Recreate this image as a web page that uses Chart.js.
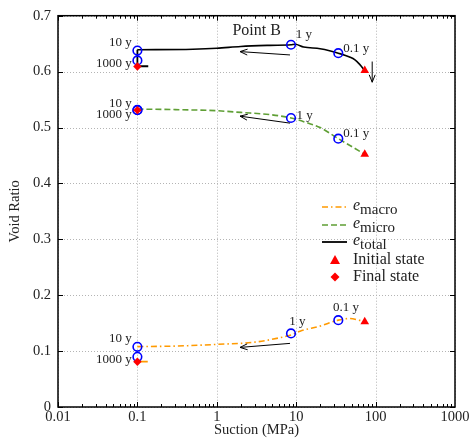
<!DOCTYPE html>
<html>
<head>
<meta charset="utf-8">
<script src="https://cdn.jsdelivr.net/npm/chart.js@4.4.1/dist/chart.umd.min.js"></script>
<style>
  html, body { margin: 0; padding: 0; background: #fff; }
</style>
</head>
<body>
<canvas id="chart" width="472" height="445"></canvas>
<script>
// Suction (MPa) and void ratio
const suctionTotal = [0.1, 0.5, 1, 2, 4.7, 8.6, 9.7, 12.4, 20, 27, 33.9, 47, 55, 63, 73];
const voidTotal    = [0.639, 0.640, 0.6417, 0.645, 0.647, 0.648, 0.649, 0.644, 0.641, 0.637, 0.633, 0.626, 0.621, 0.613, 0.602];

const suctionMicro = [0.1, 0.3, 1, 2, 4.7, 8.6, 14, 20, 33.9, 50, 73];
const voidMicro    = [0.533, 0.532, 0.530, 0.527, 0.523, 0.517, 0.508, 0.500, 0.480, 0.466, 0.452];

const suctionMacro = [0.1, 0.3, 1, 3, 6.25, 8.6, 11.2, 19.9, 33.9, 47.5, 63, 73];
const voidMacro    = [0.108, 0.109, 0.112, 0.116, 0.124, 0.129, 0.1357, 0.1447, 0.1554, 0.1584, 0.155, 0.1523];

// short segments at the final state
const stubTotalX = [0.1, 0.1, 0.137];
const stubTotalY = [0.639, 0.6096, 0.6096];
const stubMacroX = [0.1, 0.135];
const stubMacroY = [0.081, 0.081];

// time markers (blue circles): 10 y, 1000 y, 1 y, 0.1 y
const markSuction = [0.1, 0.1, 8.6, 33.9, 0.1, 0.1, 8.6, 33.9, 0.1, 0.1, 8.6, 33.9];
const markVoid    = [0.6376, 0.620, 0.648, 0.633, 0.531, 0.5315, 0.517, 0.480, 0.1077, 0.0898, 0.1316, 0.1554];

const initSuction = [73, 73, 73];
const initVoid    = [0.602, 0.452, 0.1523];
const finalSuction = [0.1, 0.1, 0.1];
const finalVoid    = [0.609, 0.531, 0.081];

// arrows (head at the "to" end)
const arrowFromX = [8.36, 8.36, 8.36, 90.6];
const arrowFromY = [0.6298, 0.5078, 0.1138, 0.618];
const arrowToX   = [1.96, 1.96, 1.96, 90.6];
const arrowToY   = [0.6358, 0.5203, 0.1066, 0.581];

// text annotations
const noteText  = ['Point B', '10 y', '1000 y', '1 y', '0.1 y', '10 y', '1000 y', '1 y', '0.1 y', '10 y', '1000 y', '1 y', '0.1 y'];
const noteX     = [3.18, 0.085, 0.085, 9.9, 39, 0.085, 0.085, 10.1, 39, 0.085, 0.085, 8.2, 29];
const noteY     = [0.673, 0.6525, 0.614, 0.667, 0.6406, 0.5424, 0.5228, 0.5214, 0.4888, 0.1227, 0.084, 0.152, 0.178];
const noteAlign = ['center', 'right', 'right', 'left', 'left', 'right', 'right', 'left', 'left', 'right', 'right', 'left', 'left'];

const xTicks = [0.01, 0.1, 1, 10, 100, 1000];
const xTickLabels = ['0.01', '0.1', '1', '10', '100', '1000'];
const yTicks = [0, 0.1, 0.2, 0.3, 0.4, 0.5, 0.6, 0.7];
const yTickLabels = ['0', '0.1', '0.2', '0.3', '0.4', '0.5', '0.6', '0.7'];

const FONT = '"Liberation Serif", "DejaVu Serif", serif';
const ORANGE = '#ff9a00';
const GREEN = '#5f9f35';
const BLUE = '#0000ff';
const RED = '#ff0000';

function pts(xs, ys) {
    return xs.map((x, i) => ({ x: x, y: ys[i] }));
}

function drawArrow(ctx, x0, y0, x1, y1) {
    const ang = Math.atan2(y1 - y0, x1 - x0);
    const len = 8, spread = 0.38;
    ctx.beginPath();
    ctx.moveTo(x0, y0);
    ctx.lineTo(x1, y1);
    ctx.stroke();
    ctx.beginPath();
    ctx.moveTo(x1 - len * Math.cos(ang - spread), y1 - len * Math.sin(ang - spread));
    ctx.lineTo(x1, y1);
    ctx.lineTo(x1 - len * Math.cos(ang + spread), y1 - len * Math.sin(ang + spread));
    ctx.stroke();
}

const decorPlugin = {
    id: 'decor',
    beforeDatasetsDraw(chart) {
        // dotted grid at the major ticks
        const ctx = chart.ctx;
        const area = chart.chartArea;
        const xs = chart.scales.x, ys = chart.scales.y;
        ctx.save();
        ctx.strokeStyle = '#b4b4b4';
        ctx.lineWidth = 1;
        ctx.setLineDash([1, 2]);
        ctx.beginPath();
        xTicks.forEach(v => {
            const px = Math.round(xs.getPixelForValue(v)) + 0.5;
            ctx.moveTo(px, area.top); ctx.lineTo(px, area.bottom);
        });
        yTicks.forEach(v => {
            const py = Math.round(ys.getPixelForValue(v)) + 0.5;
            ctx.moveTo(area.left, py); ctx.lineTo(area.right, py);
        });
        ctx.stroke();
        ctx.restore();
    },
    afterDatasetsDraw(chart) {
        const ctx = chart.ctx;
        const area = chart.chartArea;
        const xs = chart.scales.x, ys = chart.scales.y;
        ctx.save();

        // inward tick marks
        ctx.strokeStyle = '#000';
        ctx.lineWidth = 1;
        ctx.beginPath();
        for (let d = -2; d <= 2; d++) {
            for (let m = 1; m <= 9; m++) {
                const v = m * Math.pow(10, d);
                const px = Math.round(xs.getPixelForValue(v)) + 0.5;
                const l = m === 1 ? 5 : 3;
                ctx.moveTo(px, area.bottom); ctx.lineTo(px, area.bottom - l);
                ctx.moveTo(px, area.top); ctx.lineTo(px, area.top + l);
            }
        }
        yTicks.forEach(v => {
            const py = Math.round(ys.getPixelForValue(v)) + 0.5;
            ctx.moveTo(area.left, py); ctx.lineTo(area.left + 5, py);
            ctx.moveTo(area.right, py); ctx.lineTo(area.right - 5, py);
        });
        ctx.stroke();

        // frame
        ctx.lineWidth = 1.5;
        ctx.strokeRect(area.left, area.top, area.right - area.left, area.bottom - area.top);

        // arrows
        ctx.lineWidth = 1;
        for (let i = 0; i < arrowFromX.length; i++) {
            drawArrow(ctx,
                xs.getPixelForValue(arrowFromX[i]), ys.getPixelForValue(arrowFromY[i]),
                xs.getPixelForValue(arrowToX[i]), ys.getPixelForValue(arrowToY[i]));
        }

        // annotations
        ctx.fillStyle = '#222';
        ctx.textBaseline = 'middle';
        for (let i = 0; i < noteText.length; i++) {
            ctx.font = (i === 0 ? '16px ' : '13px ') + FONT;
            ctx.textAlign = noteAlign[i];
            ctx.fillText(noteText[i], xs.getPixelForValue(noteX[i]), ys.getPixelForValue(noteY[i]));
        }

        // legend
        const lx0 = 322, lx1 = 347, tx = 353;
        const rows = [207, 225, 242, 260, 277];
        ctx.lineWidth = 1.5;
        ctx.strokeStyle = ORANGE; ctx.setLineDash([6, 3, 1.5, 3]);
        ctx.beginPath(); ctx.moveTo(lx0, rows[0]); ctx.lineTo(lx1, rows[0]); ctx.stroke();
        ctx.strokeStyle = GREEN; ctx.setLineDash([6, 3]);
        ctx.beginPath(); ctx.moveTo(lx0, rows[1]); ctx.lineTo(lx1, rows[1]); ctx.stroke();
        ctx.strokeStyle = '#000'; ctx.setLineDash([]); ctx.lineWidth = 1.8;
        ctx.beginPath(); ctx.moveTo(lx0, rows[2]); ctx.lineTo(lx1, rows[2]); ctx.stroke();

        ctx.fillStyle = RED;
        ctx.beginPath();
        ctx.moveTo(335, rows[3] - 5); ctx.lineTo(340, rows[3] + 4); ctx.lineTo(330, rows[3] + 4);
        ctx.closePath(); ctx.fill();
        ctx.beginPath();
        ctx.moveTo(335, rows[4] - 4.5); ctx.lineTo(339.5, rows[4]); ctx.lineTo(335, rows[4] + 4.5); ctx.lineTo(330.5, rows[4]);
        ctx.closePath(); ctx.fill();

        ctx.fillStyle = '#222';
        ctx.textAlign = 'left';
        const subs = ['macro', 'micro', 'total'];
        subs.forEach((s, i) => {
            ctx.font = 'italic 16px ' + FONT;
            ctx.fillText('e', tx, rows[i] - 1);
            const w = ctx.measureText('e').width;
            ctx.font = '15px ' + FONT;
            ctx.fillText(s, tx + w, rows[i] + 3);
        });
        ctx.font = '16px ' + FONT;
        ctx.fillText('Initial state', tx, rows[3]);
        ctx.fillText('Final state', tx, rows[4]);

        ctx.restore();
    }
};

const lineBase = {
    showLine: true,
    pointRadius: 0,
    fill: false,
    cubicInterpolationMode: 'monotone'
};

new Chart(document.getElementById('chart'), {
    type: 'scatter',
    data: {
        datasets: [
            { label: 'Final state', data: pts(finalSuction, finalVoid), pointStyle: 'rectRot',
              pointRadius: 4.2, backgroundColor: RED, borderColor: RED, borderWidth: 0 },
            { label: 'Initial state', data: pts(initSuction, initVoid), pointStyle: 'triangle',
              pointRadius: 5, backgroundColor: RED, borderColor: RED, borderWidth: 0 },
            { label: 'time', data: pts(markSuction, markVoid), pointStyle: 'circle',
              pointRadius: 4.3, backgroundColor: 'rgba(0,0,0,0)', borderColor: BLUE, borderWidth: 1.6 },
            Object.assign({ label: 'stub total', data: pts(stubTotalX, stubTotalY), borderColor: '#000',
              borderWidth: 1.8 }, lineBase, { cubicInterpolationMode: 'default', tension: 0 }),
            Object.assign({ label: 'stub macro', data: pts(stubMacroX, stubMacroY), borderColor: ORANGE,
              borderWidth: 1.8 }, lineBase, { cubicInterpolationMode: 'default', tension: 0 }),
            Object.assign({ label: 'e total', data: pts(suctionTotal, voidTotal), borderColor: '#000',
              borderWidth: 1.6 }, lineBase),
            Object.assign({ label: 'e micro', data: pts(suctionMicro, voidMicro), borderColor: GREEN,
              borderWidth: 1.6, borderDash: [6, 3] }, lineBase),
            Object.assign({ label: 'e macro', data: pts(suctionMacro, voidMacro), borderColor: ORANGE,
              borderWidth: 1.6, borderDash: [6, 3, 1.5, 3] }, lineBase)
        ]
    },
    options: {
        responsive: false,
        animation: false,
        layout: { padding: { top: 15, right: 17, left: 0, bottom: 0 } },
        plugins: { legend: { display: false }, tooltip: { enabled: false } },
        scales: {
            x: {
                type: 'logarithmic',
                min: 0.01,
                max: 1000,
                afterBuildTicks: s => { s.ticks = xTicks.map(v => ({ value: v })); },
                afterFit: s => { s.height = 38; },
                ticks: {
                    autoSkip: false, maxRotation: 0, padding: 1,
                    color: '#222', font: { family: FONT, size: 14.5 },
                    callback: (v) => { const i = xTicks.indexOf(v); return i >= 0 ? xTickLabels[i] : ''; }
                },
                grid: { display: false, drawTicks: false },
                border: { display: false },
                title: { display: true, text: 'Suction (MPa)', color: '#222',
                         font: { family: FONT, size: 14.5 }, padding: { top: 0, bottom: 6 } }
            },
            y: {
                min: 0,
                max: 0.7,
                afterBuildTicks: s => { s.ticks = yTicks.map(v => ({ value: v })); },
                afterFit: s => { s.width = 58; },
                ticks: {
                    padding: 7, color: '#222', font: { family: FONT, size: 14.5 },
                    callback: (v) => { const i = yTicks.findIndex(t => Math.abs(t - v) < 1e-9); return i >= 0 ? yTickLabels[i] : ''; }
                },
                grid: { display: false, drawTicks: false },
                border: { display: false },
                title: { display: true, text: 'Void Ratio', color: '#222',
                         font: { family: FONT, size: 14.5 }, padding: { top: 6, bottom: 0 } }
            }
        }
    },
    plugins: [decorPlugin]
});
</script>
</body>
</html>
